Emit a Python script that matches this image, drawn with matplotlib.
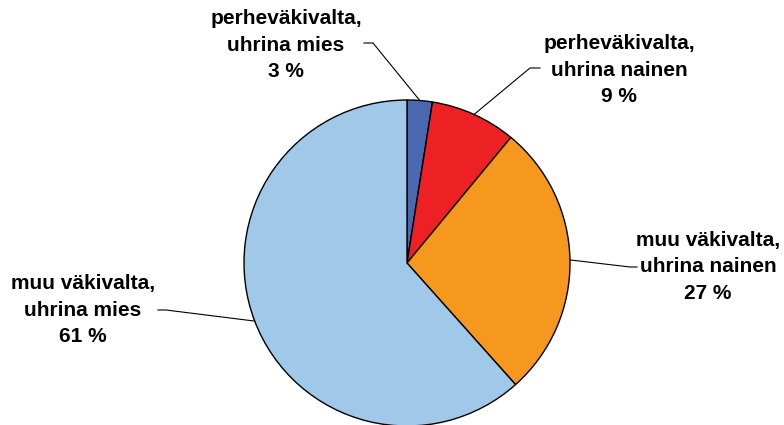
import numpy as np
import matplotlib
matplotlib.use("Agg")
import matplotlib.pyplot as plt

categories = ["perheväkivalta,\nuhrina mies", "perheväkivalta,\nuhrina nainen",
              "muu väkivalta,\nuhrina nainen", "muu väkivalta,\nuhrina mies"]
values = [2.5, 8.5, 27.4, 61.6]
pct_labels = ["3 %", "9 %", "27 %", "61 %"]
colors = ["#4A68B0", "#ED2024", "#F7981E", "#A0C8E9"]

W, H = 784, 425
fig = plt.figure(figsize=(W / 100, H / 100), dpi=100)
ax = fig.add_axes([0, 0, 1, 1])

cx, cy, r = 407, H - 263, 163
wedges, _ = ax.pie(values, colors=colors, startangle=90, counterclock=False,
                   center=(cx, cy), radius=r, frame=True,
                   wedgeprops=dict(edgecolor="black", linewidth=1.0))
ax.set_xlim(0, W)
ax.set_ylim(0, H)
ax.set_aspect("equal")
ax.axis("off")

# label text centers (pixel, y from top), leader elbow positions
text_pos = [(286, 45), (619, 70), (708, 267), (83, 310)]
elbows = [((364, 43), (373, 43)), ((540, 68), (530, 68)),
          ((637, 267), (630, 267)), ((158, 310), (166, 310))]

for w, cat, pct, (tx, ty), (e1, e2) in zip(wedges, categories, pct_labels, text_pos, elbows):
    ang = np.deg2rad((w.theta1 + w.theta2) / 2)
    px = cx + r * np.cos(ang)
    py = cy + r * np.sin(ang)
    ax.text(tx, H - ty, cat + "\n" + pct, ha="center", va="center",
            fontsize=15, fontweight="bold", family=["Liberation Sans", "DejaVu Sans"],
            linespacing=1.5, color="black")
    ax.plot([e1[0], e2[0], px], [H - e1[1], H - e2[1], py], color="black", lw=0.8)

fig.savefig("out.png", dpi=100)
